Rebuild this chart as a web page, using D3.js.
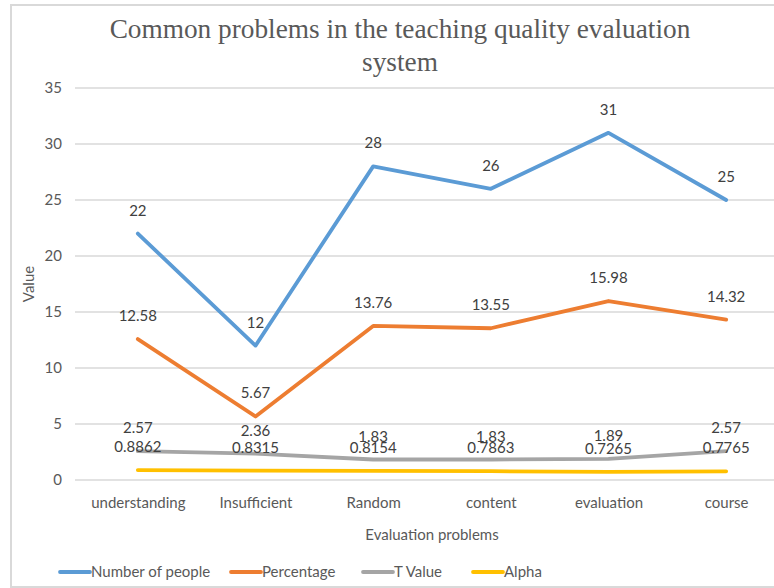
<!DOCTYPE html>
<html><head><meta charset="utf-8">
<script src="https://cdn.jsdelivr.net/npm/d3@7"></script>
<style>body{margin:0;background:#fff;}svg{display:block;}</style>
</head><body>
<svg id="c" width="774" height="588"></svg>
<script>
const categories = ["understanding","Insufficient","Random","content","evaluation","course"];
const numberOfPeople = [22,12,28,26,31,25];
const percentage = [12.58,5.67,13.76,13.55,15.98,14.32];
const tValue = [2.57,2.36,1.83,1.83,1.89,2.57];
const alpha = [0.8862,0.8315,0.8154,0.7863,0.7265,0.7765];
const yTicks = [0,5,10,15,20,25,30,35];
const seriesNames = ["Number of people","Percentage","T Value","Alpha"];
const colors = ["#5B9BD5","#ED7D31","#A5A5A5","#FFC000"];

const series = [numberOfPeople, percentage, tValue, alpha].map((v,i)=>({name:seriesNames[i], values:v, color:colors[i]}));

const svg = d3.select("#c");
const font = "Lato, 'Open Sans', sans-serif";
const fs = 15;

// chart border
svg.append("rect").attr("x",11).attr("y",5).attr("width",800).attr("height",582)
  .attr("fill","#fff").attr("stroke","#D9D9D9").attr("stroke-width",2);

const x = d3.scalePoint().domain(categories).range([79,785]).padding(0.5);
const y = d3.scaleLinear().domain([0,35]).range([480,88]);

// gridlines
svg.append("g").selectAll("line").data(yTicks).join("line")
  .attr("x1",75).attr("x2",785).attr("y1",d=>y(d)).attr("y2",d=>y(d))
  .attr("stroke","#D9D9D9").attr("stroke-width",1.3);

// y axis labels
const yAxis = d3.axisLeft(y).tickValues(yTicks).tickSize(0).tickPadding(0);
const gy = svg.append("g").attr("transform","translate(62,0)").call(yAxis);
gy.select(".domain").remove();
gy.selectAll("text").attr("font-family",font).attr("font-size",fs).attr("fill","#595959");

// x axis labels
const xAxis = d3.axisBottom(x).tickSize(0).tickPadding(0);
const gx = svg.append("g").attr("transform","translate(0,497)").call(xAxis);
gx.select(".domain").remove();
gx.selectAll("text").attr("font-family",font).attr("font-size",fs).attr("fill","#595959").attr("dy","0.71em");

// titles
const titleFont = "'Liberation Serif', 'Times New Roman', serif";
svg.append("text").attr("x",400).attr("y",38).attr("text-anchor","middle")
  .attr("font-family",titleFont).attr("font-size",27.3).attr("fill","#595959")
  .text("Common problems in the teaching quality evaluation");
svg.append("text").attr("x",400).attr("y",71).attr("text-anchor","middle")
  .attr("font-family",titleFont).attr("font-size",27.3).attr("fill","#595959")
  .text("system");

svg.append("text").attr("transform","translate(34,284) rotate(-90)").attr("text-anchor","middle")
  .attr("font-family",font).attr("font-size",fs).attr("fill","#595959").text("Value");
svg.append("text").attr("x",432).attr("y",540).attr("text-anchor","middle")
  .attr("font-family",font).attr("font-size",fs).attr("fill","#595959").text("Evaluation problems");

// lines
const line = d3.line().x((d,i)=>x(categories[i])).y(d=>y(d));
svg.append("g").selectAll("path").data(series).join("path")
  .attr("d",s=>line(s.values)).attr("fill","none").attr("stroke",s=>s.color)
  .attr("stroke-width",3.8).attr("stroke-linecap","round").attr("stroke-linejoin","round");

// data labels
series.forEach(s=>{
  svg.append("g").selectAll("text").data(s.values).join("text")
    .attr("x",(d,i)=>x(categories[i])).attr("y",d=>y(d)-18)
    .attr("text-anchor","middle").attr("font-family",font).attr("font-size",fs).attr("fill","#404040")
    .text(d=>d);
});

// legend
const legendX = [60,231,363,473];
const lg = svg.append("g").selectAll("g").data(series).join("g")
  .attr("transform",(d,i)=>`translate(${legendX[i]},572)`);
lg.append("line").attr("x1",0).attr("x2",30).attr("y1",0).attr("y2",0)
  .attr("stroke",d=>d.color).attr("stroke-width",3.8).attr("stroke-linecap","round");
lg.append("text").attr("x",31).attr("y",0).attr("dy","0.35em")
  .attr("font-family",font).attr("font-size",fs).attr("fill","#595959").text(d=>d.name);
</script>
</body></html>
